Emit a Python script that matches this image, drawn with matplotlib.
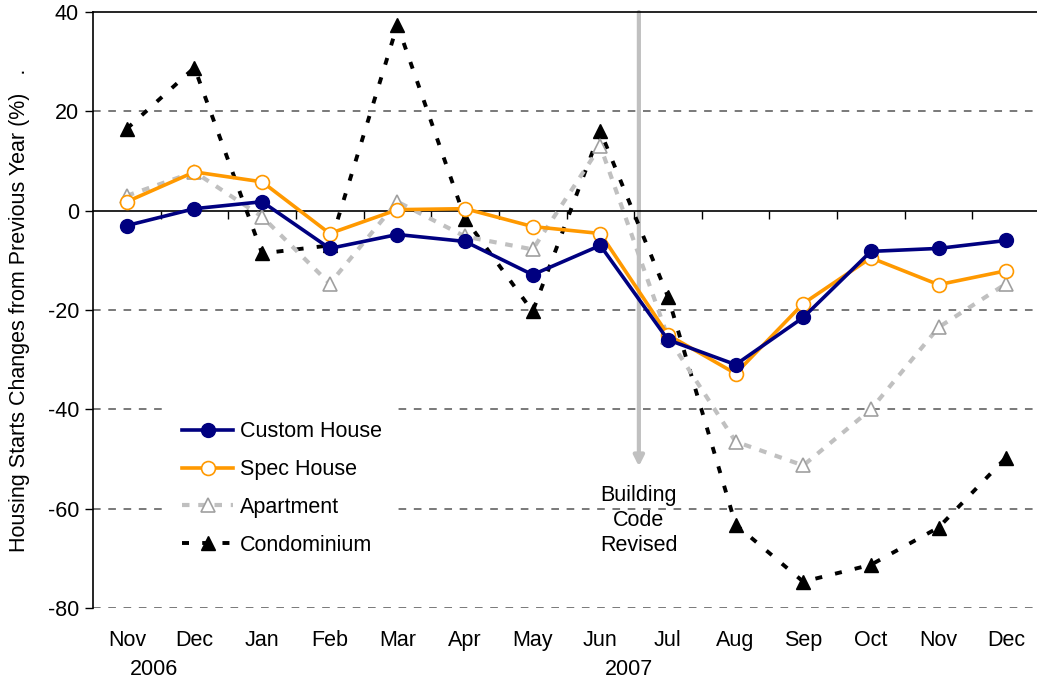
import matplotlib
matplotlib.use("Agg")
import matplotlib.pyplot as plt
import matplotlib.transforms as mtrans

plt.rcParams['font.family'] = ['Liberation Sans', 'DejaVu Sans']
plt.rcParams['axes.unicode_minus'] = False

months = ['Nov', 'Dec', 'Jan', 'Feb', 'Mar', 'Apr', 'May', 'Jun',
          'Jul', 'Aug', 'Sep', 'Oct', 'Nov', 'Dec']
years = ['2006', '2007']
custom = [-3.0, 0.4, 1.8, -7.6, -4.8, -6.2, -12.9, -7.0, -26.0, -31.0, -21.5, -8.2, -7.6, -6.0]
spec = [1.8, 7.8, 5.8, -4.6, 0.2, 0.4, -3.2, -4.6, -25.0, -32.8, -18.7, -9.5, -14.9, -12.1]
apartment = [3.0, 7.8, -1.2, -14.7, 1.8, -5.2, -7.8, 13.0, -25.5, -46.5, -51.3, -40.0, -23.5, -14.7]
condo = [16.5, 28.8, -8.6, -7.0, 37.4, -1.6, -20.3, 16.0, -17.3, -63.2, -74.7, -71.3, -63.8, -49.7]

x = list(range(len(months)))
fs = 15.5

fig = plt.figure(figsize=(10.37, 6.83), dpi=100)
ax = fig.add_axes([93 / 1037, 1 - 608 / 683, 947 / 1037, 596 / 683])

# grid lines
for g in [20, -20, -40, -60, -80]:
    ax.axhline(g, color='#555555', lw=1.1, ls=(0, (5, 5)), zorder=1)

ax.plot(x, condo, color='black', lw=2.8, ls=(0, (1.8, 3.4)), marker='^', ms=10,
        mfc='black', mec='black', label='Condominium', zorder=3)
ax.plot(x, apartment, color='#c0c0c0', lw=3, ls=(0, (1.8, 2.1)), marker='^', ms=10,
        mfc='white', mec='#a0a0a0', mew=1.2, label='Apartment', zorder=4)
ax.plot(x, spec, color='#ff9900', lw=2.6, marker='o', ms=10,
        mfc='white', mec='#ff9900', mew=1.2, label='Spec House', zorder=5)
ax.plot(x, custom, color='#000080', lw=2.6, marker='o', ms=10,
        mfc='#000080', mec='#000080', label='Custom House', zorder=6)

ax.set_xlim(-0.5, len(months) - 0.5)
ax.set_ylim(-80, 40)
ax.set_yticks(range(-80, 41, 20))
ax.tick_params(axis='y', labelsize=fs, length=6, width=1, direction='out', pad=4)

ax.spines['right'].set_visible(False)
ax.spines['bottom'].set_position(('data', 0))
ax.spines['bottom'].set_linewidth(1.2)
ax.spines['top'].set_linewidth(1.2)
ax.spines['left'].set_linewidth(1.2)
ax.set_xticks([i + 0.5 for i in x[:-1]])
ax.tick_params(axis='x', length=6, width=1, direction='out', labelbottom=False)

trans = mtrans.blended_transform_factory(ax.transData, ax.transAxes)
for i, m in enumerate(months):
    ax.text(i, -0.055, m, transform=trans, ha='center', va='center', fontsize=fs)
ax.text(0.4, -0.104, years[0], transform=trans, ha='center', va='center', fontsize=fs)
ax.text(7.43, -0.104, years[1], transform=trans, ha='center', va='center', fontsize=fs)

ax.set_ylabel('Housing Starts Changes from Previous Year (%)   .', fontsize=15.5, labelpad=13)

ax.annotate('', xy=(7.57, -51.5), xytext=(7.57, 40),
            arrowprops=dict(arrowstyle='-|>,head_length=0.6,head_width=0.3',
                            color='#c0c0c0', lw=3, shrinkA=0, shrinkB=0), zorder=2)
ax.text(7.57, -62.4, 'Building\nCode\nRevised', ha='center', va='center',
        fontsize=fs, linespacing=1.25)

handles, labels = ax.get_legend_handles_labels()
order = [3, 2, 1, 0]
leg = ax.legend([handles[i] for i in order], [labels[i] for i in order],
                loc='upper left', bbox_to_anchor=(0.08, 0.335), frameon=True,
                fontsize=fs, labelspacing=0.78, handlelength=2.4, handletextpad=0.3,
                borderpad=0.6, borderaxespad=0)
leg.get_frame().set_facecolor('white')
leg.get_frame().set_edgecolor('none')
leg.get_frame().set_alpha(1)
leg.get_frame().set_boxstyle('square', pad=0)

fig.savefig('out.png', dpi=100)
